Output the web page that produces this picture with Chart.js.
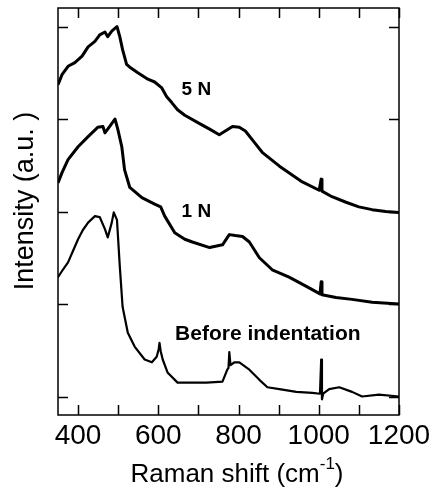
<!DOCTYPE html>
<html>
<head>
<meta charset="utf-8">
<script src="https://cdn.jsdelivr.net/npm/chart.js@4"></script>
<style>
  html, body { margin: 0; padding: 0; background: #fff; }
</style>
</head>
<body>
<canvas id="raman" width="432" height="489"></canvas>
<script>
// Raman spectra (shift in cm-1, intensity in arbitrary offset units)
const shift5N = [350, 360, 375, 392, 410, 425, 442, 454, 467, 474, 484, 497, 504, 511, 521, 529, 549, 574, 591, 608,
                 621, 633, 648, 666, 703, 728, 752, 767, 785, 802, 817, 839, 859, 902, 959, 1001, 1006, 1008, 1033,
                 1068, 1100, 1133, 1167, 1200];
const int5N = [3.37, 3.48, 3.57, 3.61, 3.68, 3.78, 3.84, 3.91, 3.94, 3.89, 3.95, 4.00, 3.89, 3.75, 3.59, 3.56, 3.50,
               3.43, 3.40, 3.34, 3.24, 3.18, 3.10, 3.04, 2.95, 2.89, 2.83, 2.87, 2.92, 2.91, 2.87, 2.75, 2.64, 2.49,
               2.32, 2.23, 2.35, 2.22, 2.16, 2.10, 2.05, 2.02, 2.00, 1.99];

const shift1N = [350, 360, 375, 400, 425, 449, 462, 467, 479, 492, 499, 509, 516, 529, 559, 591, 606, 616, 641, 666,
                 685, 728, 760, 777, 792, 810, 827, 852, 884, 926, 969, 1003, 1006, 1008, 1043, 1083, 1133, 1200];
const int1N = [2.31, 2.42, 2.56, 2.70, 2.81, 2.91, 2.92, 2.85, 2.92, 3.00, 2.89, 2.70, 2.45, 2.26, 2.15, 2.08, 2.05,
               1.95, 1.77, 1.70, 1.67, 1.61, 1.64, 1.75, 1.74, 1.73, 1.67, 1.50, 1.37, 1.29, 1.19, 1.11, 1.24, 1.10,
               1.07, 1.05, 1.02, 1.00];

const shiftBefore = [350, 362, 375, 387, 400, 412, 425, 442, 454, 467, 474, 484, 489, 497, 504, 511, 524, 541, 566,
                     584, 596, 601, 603, 606, 611, 623, 648, 678, 720, 760, 772, 775, 777, 780, 790, 802, 827, 852,
                     872, 902, 944, 984, 1003, 1006, 1008, 1011, 1026, 1051, 1083, 1108, 1150, 1200];
const intBefore = [1.29, 1.37, 1.45, 1.57, 1.70, 1.80, 1.88, 1.95, 1.94, 1.81, 1.72, 1.88, 1.99, 1.91, 1.41, 0.97,
                   0.69, 0.54, 0.40, 0.37, 0.43, 0.51, 0.58, 0.49, 0.40, 0.26, 0.15, 0.15, 0.15, 0.16, 0.29, 0.31,
                   0.48, 0.34, 0.37, 0.37, 0.29, 0.18, 0.10, 0.08, 0.05, 0.04, 0.03, 0.40, -0.03, 0.03, 0.08, 0.10,
                   0.05, 0.00, 0.02, 0.00];

const xTickValues = [400, 500, 600, 700, 800, 900, 1000, 1100, 1200];
const xTickLabels = [400, 600, 800, 1000, 1200];
const yTickValues = [0, 1, 2, 3, 4];

const FONT = "'Liberation Sans', Arial, Helvetica, sans-serif";

const toPoints = (xs, ys) => xs.map((x, i) => ({ x, y: ys[i] }));
const spectrum = (label, xs, ys, width) => ({
    label,
    data: toPoints(xs, ys),
    borderColor: '#000',
    borderWidth: width,
    borderJoinStyle: 'round',
    pointRadius: 0,
    tension: 0,
    fill: false
});

// frame, inward ticks on all four sides, axis titles and curve labels
const framePlugin = {
    id: 'frame',
    afterDraw(chart) {
        const { ctx, chartArea: a, scales: { x, y } } = chart;
        ctx.save();
        ctx.strokeStyle = '#000';
        ctx.lineWidth = 1.5;
        ctx.strokeRect(a.left, a.top, a.right - a.left, a.bottom - a.top);

        ctx.beginPath();
        xTickValues.forEach(v => {
            const px = Math.round(x.getPixelForValue(v)) + 0.5;
            ctx.moveTo(px, a.bottom); ctx.lineTo(px, a.bottom - 10);
            ctx.moveTo(px, a.top); ctx.lineTo(px, a.top + 10);
        });
        yTickValues.forEach(v => {
            const py = Math.round(y.getPixelForValue(v)) + 0.5;
            ctx.moveTo(a.left, py); ctx.lineTo(a.left + 10, py);
            ctx.moveTo(a.right, py); ctx.lineTo(a.right - 10, py);
        });
        ctx.stroke();

        ctx.fillStyle = '#000';

        // curve labels
        ctx.textAlign = 'center';
        ctx.textBaseline = 'middle';
        ctx.font = 'bold 19px ' + FONT;
        ctx.fillText('5 N', x.getPixelForValue(695), y.getPixelForValue(3.32));
        ctx.fillText('1 N', x.getPixelForValue(695), y.getPixelForValue(2.0));
        ctx.font = 'bold 21px ' + FONT;
        ctx.fillText('Before indentation', x.getPixelForValue(873), y.getPixelForValue(0.67));

        // y title
        ctx.save();
        ctx.translate(26, 201);
        ctx.rotate(-Math.PI / 2);
        ctx.font = '27px ' + FONT;
        ctx.fillText('Intensity (a.u. )', 0, 0);
        ctx.restore();

        // x title with superscript
        ctx.textAlign = 'left';
        ctx.textBaseline = 'alphabetic';
        const main = 'Raman shift (cm', sup = '-1', close = ')';
        ctx.font = '26px ' + FONT;
        const w1 = ctx.measureText(main).width, w3 = ctx.measureText(close).width;
        ctx.font = '17px ' + FONT;
        const w2 = ctx.measureText(sup).width;
        let tx = 237 - (w1 + w2 + w3) / 2;
        ctx.font = '26px ' + FONT;
        ctx.fillText(main, tx, 482);
        tx += w1;
        ctx.font = '17px ' + FONT;
        ctx.fillText(sup, tx, 469);
        tx += w2;
        ctx.font = '26px ' + FONT;
        ctx.fillText(close, tx, 482);
        ctx.restore();
    }
};

new Chart(document.getElementById('raman'), {
    type: 'line',
    data: {
        datasets: [
            spectrum('5 N', shift5N, int5N, 3),
            spectrum('1 N', shift1N, int1N, 3),
            spectrum('Before indentation', shiftBefore, intBefore, 2.2)
        ]
    },
    options: {
        responsive: false,
        animation: false,
        devicePixelRatio: 1,
        layout: { padding: { left: 58, right: 33, top: 8, bottom: 0 } },
        plugins: { legend: { display: false }, tooltip: { enabled: false } },
        scales: {
            x: {
                type: 'linear',
                min: 350,
                max: 1200,
                afterBuildTicks: s => { s.ticks = xTickValues.map(v => ({ value: v })); },
                afterFit: s => { s.height = 74; },
                ticks: {
                    autoSkip: false,
                    maxRotation: 0,
                    padding: -4,
                    color: '#000',
                    font: { family: FONT, size: 28 },
                    callback: v => xTickLabels.includes(v) ? String(v) : ''
                },
                grid: { display: false },
                border: { display: false }
            },
            y: {
                type: 'linear',
                min: -0.2,
                max: 4.2,
                afterBuildTicks: s => { s.ticks = yTickValues.map(v => ({ value: v })); },
                afterFit: s => { s.width = 0; },
                ticks: { display: false },
                grid: { display: false },
                border: { display: false }
            }
        }
    },
    plugins: [framePlugin]
});
</script>
</body>
</html>
